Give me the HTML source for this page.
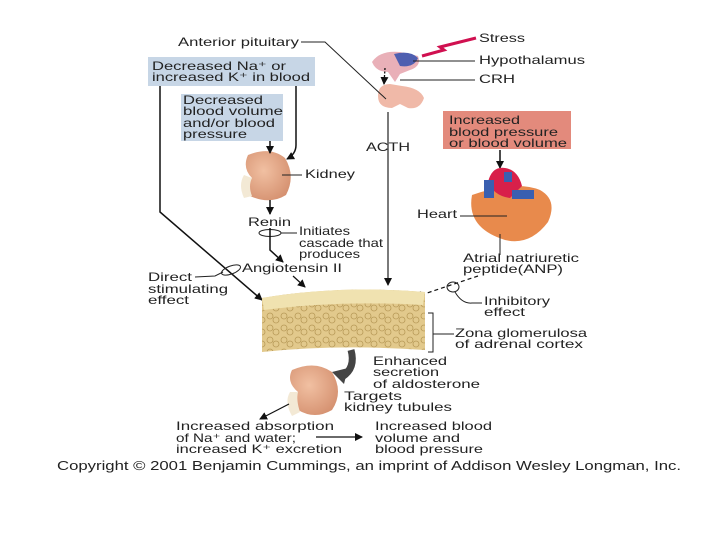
<!DOCTYPE html>
<html><head><meta charset="utf-8"><style>
html,body{margin:0;padding:0;background:#fff;}
svg{display:block;}
text{font-family:"Liberation Sans",sans-serif;font-size:12px;fill:#222;}
</style></head><body>
<svg width="720" height="540" viewBox="0 0 720 540" xmlns="http://www.w3.org/2000/svg">
<defs>
<marker id="ah" markerWidth="8" markerHeight="8" refX="7" refY="4" orient="auto" markerUnits="userSpaceOnUse"><path d="M0,0 L8,4 L0,8 z" fill="#111"/></marker>
<pattern id="cells" width="14" height="12" patternUnits="userSpaceOnUse"><rect width="14" height="12" fill="#e2c98c"/><circle cx="4" cy="4" r="3" fill="none" stroke="#b89a58" stroke-width="0.8"/><circle cx="10" cy="8" r="3" fill="none" stroke="#b89a58" stroke-width="0.8"/></pattern>
<radialGradient id="kid" cx="0.4" cy="0.4" r="0.7"><stop offset="0" stop-color="#f1c0a2"/><stop offset="1" stop-color="#d48f6e"/></radialGradient>
</defs>

<rect x="148" y="57" width="167" height="29" fill="#c7d6e6"/>
<text x="152" y="70" textLength="134" lengthAdjust="spacingAndGlyphs">Decreased Na⁺ or</text>
<text x="152" y="81" textLength="158" lengthAdjust="spacingAndGlyphs">increased K⁺ in blood</text>
<rect x="181" y="94" width="102" height="47" fill="#c7d6e6"/>
<text x="183" y="104" textLength="80" lengthAdjust="spacingAndGlyphs">Decreased</text>
<text x="183" y="115" textLength="100" lengthAdjust="spacingAndGlyphs">blood volume</text>
<text x="183" y="127" textLength="92" lengthAdjust="spacingAndGlyphs">and/or blood</text>
<text x="183" y="138" textLength="64" lengthAdjust="spacingAndGlyphs">pressure</text>

<rect x="443" y="111" width="128" height="38" fill="#e38a7c"/>
<text x="449" y="124" textLength="71" lengthAdjust="spacingAndGlyphs">Increased</text>
<text x="449" y="136" textLength="109" lengthAdjust="spacingAndGlyphs">blood pressure</text>
<text x="449" y="147" textLength="118" lengthAdjust="spacingAndGlyphs">or blood volume</text>

<text x="178" y="46" textLength="121" lengthAdjust="spacingAndGlyphs">Anterior pituitary</text>
<text x="479" y="42" textLength="46" lengthAdjust="spacingAndGlyphs">Stress</text>
<text x="479" y="64" textLength="106" lengthAdjust="spacingAndGlyphs">Hypothalamus</text>
<text x="479" y="83" textLength="36" lengthAdjust="spacingAndGlyphs">CRH</text>
<text x="366" y="151" textLength="44" lengthAdjust="spacingAndGlyphs">ACTH</text>

<path d="M372,62 Q380,50 400,52 L418,56 Q422,66 410,70 L400,74 L395,82 L388,72 Q376,72 372,62 z" fill="#e9b0b8"/>
<path d="M394,54 Q410,50 418,58 Q414,68 400,66 Z" fill="#4f5fb0"/>
<path d="M378,96 Q378,84 390,84 L402,86 Q420,88 424,98 Q420,110 408,108 L400,104 L392,108 Q378,108 378,96 z" fill="#f0b9a8"/>
<line x1="385" y1="68" x2="384" y2="84" stroke="#111" stroke-width="1.3" stroke-dasharray="2,1.5" marker-end="url(#ah)"/>
<path d="M476,38 L440,47 L444,50 L422,56" fill="none" stroke="#d01050" stroke-width="3"/>
<line x1="413" y1="61" x2="475" y2="61" stroke="#222"/>
<line x1="400" y1="80" x2="475" y2="80" stroke="#222"/>
<polyline points="301,42 325,42 386,99" fill="none" stroke="#222"/>
<line x1="388" y1="112" x2="388" y2="285" stroke="#222" stroke-width="1.2" marker-end="url(#ah)"/>

<path d="M248,155 Q270,146 285,158 Q296,176 286,195 Q270,205 250,196 Q244,188 252,178 Q242,168 248,155 z" fill="url(#kid)"/>
<path d="M244,175 Q238,185 244,198 L252,196 Q248,186 252,178 z" fill="#f3e9d5"/>
<line x1="282" y1="175" x2="302" y2="175" stroke="#222"/>
<text x="305" y="178" textLength="50" lengthAdjust="spacingAndGlyphs">Kidney</text>
<line x1="270" y1="141" x2="270" y2="153" stroke="#111" stroke-width="1.5" marker-end="url(#ah)"/>
<path d="M296,86 L296,145 Q296,154 287,159" fill="none" stroke="#111" stroke-width="1.5" marker-end="url(#ah)"/>
<line x1="270" y1="200" x2="270" y2="214" stroke="#111" stroke-width="1.5" marker-end="url(#ah)"/>
<text x="248" y="226" textLength="43" lengthAdjust="spacingAndGlyphs">Renin</text>
<ellipse cx="270" cy="233" rx="11" ry="3.5" fill="none" stroke="#222"/>
<line x1="281" y1="233" x2="297" y2="233" stroke="#222"/>
<text x="299" y="235" textLength="51" lengthAdjust="spacingAndGlyphs">Initiates</text>
<text x="299" y="247" textLength="84" lengthAdjust="spacingAndGlyphs">cascade that</text>
<text x="299" y="258" textLength="61" lengthAdjust="spacingAndGlyphs">produces</text>
<polyline points="270,228 270,250 283,262" fill="none" stroke="#111" stroke-width="1.5" marker-end="url(#ah)"/>
<text x="242" y="272" textLength="100" lengthAdjust="spacingAndGlyphs">Angiotensin II</text>
<line x1="293" y1="276" x2="305" y2="287" stroke="#111" stroke-width="1.2" marker-end="url(#ah)"/>

<polyline points="160,86 160,212 262,300" fill="none" stroke="#111" stroke-width="1.5" marker-end="url(#ah)"/>
<ellipse cx="231" cy="270" rx="10" ry="4" fill="none" stroke="#222" transform="rotate(-20 231 270)"/>
<polyline points="195,277 215,276 223,272" fill="none" stroke="#222"/>
<text x="148" y="281" textLength="44" lengthAdjust="spacingAndGlyphs">Direct</text>
<text x="148" y="293" textLength="80" lengthAdjust="spacingAndGlyphs">stimulating</text>
<text x="148" y="304" textLength="41" lengthAdjust="spacingAndGlyphs">effect</text>

<line x1="500" y1="150" x2="500" y2="168" stroke="#111" stroke-width="1.5" marker-end="url(#ah)"/>
<path d="M472,195 Q466,228 505,240 Q530,246 548,222 Q558,200 540,190 Q515,180 472,195 z" fill="#e88a4c"/>
<path d="M488,182 Q492,166 505,168 Q518,170 522,186 L510,198 Q494,196 488,182 z" fill="#d8204a"/>
<rect x="484" y="180" width="10" height="18" fill="#3a5fb0"/>
<rect x="512" y="190" width="22" height="9" fill="#3a5fb0"/>
<rect x="504" y="172" width="8" height="10" fill="#3a5fb0"/>
<text x="417" y="218" textLength="40" lengthAdjust="spacingAndGlyphs">Heart</text>
<line x1="460" y1="216" x2="507" y2="216" stroke="#222"/>
<line x1="500" y1="234" x2="500" y2="255" stroke="#222"/>
<text x="463" y="262" textLength="116" lengthAdjust="spacingAndGlyphs">Atrial natriuretic</text>
<text x="463" y="273" textLength="100" lengthAdjust="spacingAndGlyphs">peptide(ANP)</text>
<line x1="478" y1="276" x2="415" y2="297" stroke="#111" stroke-width="1.2" stroke-dasharray="4,3" marker-end="url(#ah)"/>
<ellipse cx="453" cy="287" rx="6" ry="5" fill="none" stroke="#222"/>
<path d="M455,292 Q462,304 472,303 L482,303" fill="none" stroke="#222"/>
<text x="484" y="305" textLength="66" lengthAdjust="spacingAndGlyphs">Inhibitory</text>
<text x="484" y="316" textLength="41" lengthAdjust="spacingAndGlyphs">effect</text>

<path d="M262,298 Q340,285 425,292 L425,350 Q340,344 262,352 z" fill="url(#cells)"/>
<path d="M262,298 Q340,285 425,292 L423,305 Q340,300 264,310 z" fill="#f0e2b0"/>
<polyline points="428,313 433,313 433,352 428,352" fill="none" stroke="#222"/>
<line x1="433" y1="334" x2="454" y2="334" stroke="#222"/>
<text x="455" y="337" textLength="132" lengthAdjust="spacingAndGlyphs">Zona glomerulosa</text>
<text x="455" y="348" textLength="128" lengthAdjust="spacingAndGlyphs">of adrenal cortex</text>

<path d="M351,350 Q356,368 342,377" fill="none" stroke="#444" stroke-width="7"/>
<path d="M332,372 L344,384 L348,368 z" fill="#444"/>
<text x="373" y="365" textLength="74" lengthAdjust="spacingAndGlyphs">Enhanced</text>
<text x="373" y="376" textLength="66" lengthAdjust="spacingAndGlyphs">secretion</text>
<text x="373" y="388" textLength="107" lengthAdjust="spacingAndGlyphs">of aldosterone</text>

<path d="M292,370 Q315,360 332,372 Q344,392 332,410 Q315,420 298,410 Q290,400 298,392 Q286,382 292,370 z" fill="url(#kid)"/>
<path d="M290,392 Q284,402 292,416 L300,412 Q296,400 298,392 z" fill="#f3e9d5"/>
<text x="344" y="400" textLength="58" lengthAdjust="spacingAndGlyphs">Targets</text>
<text x="344" y="411" textLength="108" lengthAdjust="spacingAndGlyphs">kidney tubules</text>
<line x1="289" y1="404" x2="260" y2="419" stroke="#111" stroke-width="1.2" marker-end="url(#ah)"/>

<text x="176" y="430" textLength="158" lengthAdjust="spacingAndGlyphs">Increased absorption</text>
<text x="176" y="442" textLength="120" lengthAdjust="spacingAndGlyphs">of Na⁺ and water;</text>
<text x="176" y="453" textLength="166" lengthAdjust="spacingAndGlyphs">increased K⁺ excretion</text>
<line x1="316" y1="437" x2="362" y2="437" stroke="#111" stroke-width="1.2" marker-end="url(#ah)"/>
<text x="375" y="430" textLength="117" lengthAdjust="spacingAndGlyphs">Increased blood</text>
<text x="375" y="442" textLength="85" lengthAdjust="spacingAndGlyphs">volume and</text>
<text x="375" y="453" textLength="108" lengthAdjust="spacingAndGlyphs">blood pressure</text>

<text x="57" y="470" style="font-size:13px" textLength="624" lengthAdjust="spacingAndGlyphs">Copyright © 2001 Benjamin Cummings, an imprint of Addison Wesley Longman, Inc.</text>
</svg>
</body></html>
